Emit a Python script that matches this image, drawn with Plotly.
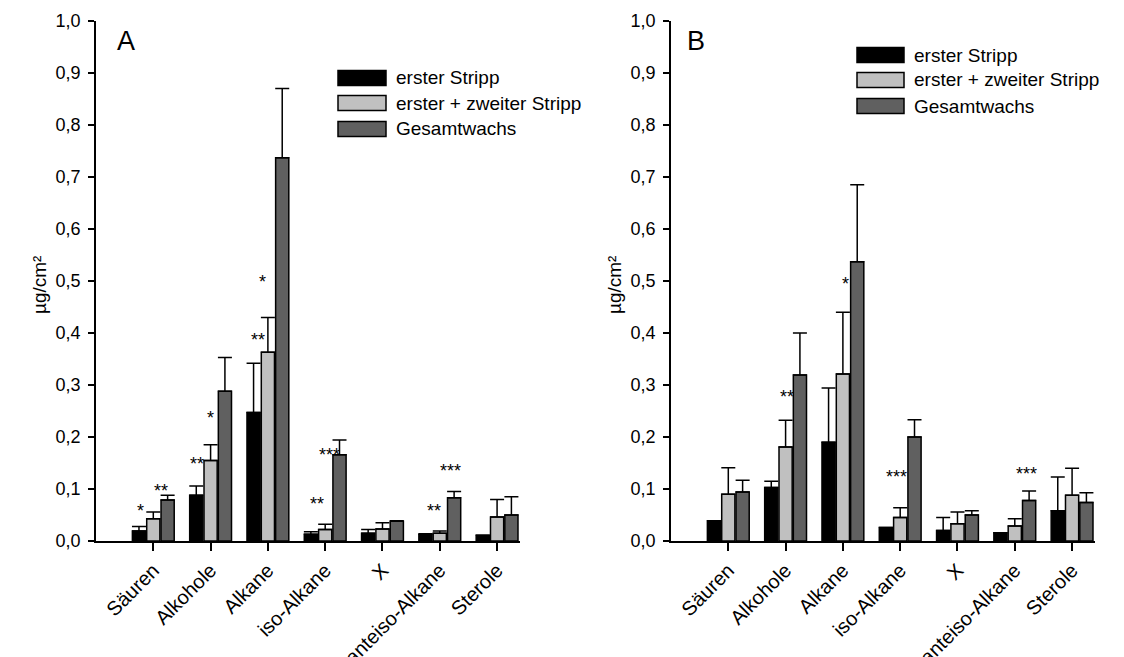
import plotly.graph_objects as go

categories = ["Säuren", "Alkohole", "Alkane", "iso-Alkane", "X", "anteiso-Alkane", "Sterole"]
series_names = ["erster Stripp", "erster + zweiter Stripp", "Gesamtwachs"]
y_tick_vals = [0.0, 0.1, 0.2, 0.3, 0.4, 0.5, 0.6, 0.7, 0.8, 0.9, 1.0]
y_tick_text = ["0,0", "0,1", "0,2", "0,3", "0,4", "0,5", "0,6", "0,7", "0,8", "0,9", "1,0"]

# Panel A: means and upper error (top of error bar)
a_first = [0.019, 0.088, 0.247, 0.013, 0.015, 0.013, 0.011]
a_first_top = [0.028, 0.106, 0.342, 0.018, 0.022, 0.014, 0.011]
a_second = [0.043, 0.155, 0.363, 0.022, 0.023, 0.015, 0.046]
a_second_top = [0.056, 0.185, 0.430, 0.032, 0.035, 0.019, 0.080]
a_total = [0.079, 0.288, 0.737, 0.166, 0.038, 0.083, 0.050]
a_total_top = [0.088, 0.353, 0.870, 0.194, 0.039, 0.095, 0.085]

# Panel B
b_first = [0.039, 0.103, 0.190, 0.026, 0.020, 0.016, 0.058]
b_first_top = [0.039, 0.115, 0.294, 0.026, 0.045, 0.016, 0.123]
b_second = [0.090, 0.181, 0.321, 0.045, 0.033, 0.029, 0.088]
b_second_top = [0.141, 0.232, 0.440, 0.064, 0.056, 0.043, 0.140]
b_total = [0.094, 0.319, 0.537, 0.200, 0.050, 0.078, 0.074]
b_total_top = [0.117, 0.400, 0.685, 0.233, 0.058, 0.096, 0.093]

# significance markers: (category position, y, text)
a_stars_x = [-0.23, 0.14, 0.77, 1.0, 1.83, 1.91, 2.86, 3.07, 4.9, 5.19]
a_stars_y = [0.066, 0.103, 0.156, 0.245, 0.394, 0.506, 0.079, 0.173, 0.065, 0.142]
a_stars_t = ["*", "**", "**", "*", "**", "*", "**", "***", "**", "***"]
b_stars_x = [1.03, 2.05, 2.93, 5.21]
b_stars_y = [0.284, 0.501, 0.130, 0.136]
b_stars_t = ["**", "*", "***", "***"]

colors = ["#000000", "#c0c0c0", "#606060"]
FONT = "Liberation Sans, Arial, sans-serif"
OFF = 8  # page body margin
W, H = 1124 - OFF, 657 - OFF

def px(x):
    return (x - OFF) / W

def py(y):
    return 1 - (y - OFF) / H

fig = go.Figure()
xpos = list(range(len(categories)))

def add_panel(vals, tops, xa, ya):
    for i, (v, t) in enumerate(zip(vals, tops)):
        fig.add_trace(go.Bar(
            x=xpos, y=v, name=series_names[i], showlegend=False,
            marker=dict(color=colors[i], line=dict(color="black", width=1.5)),
            error_y=dict(type="data", symmetric=False,
                         array=[tt - vv for tt, vv in zip(t, v)],
                         arrayminus=[0] * len(v),
                         color="black", thickness=1.5, width=7),
            xaxis=xa, yaxis=ya, offsetgroup=str(i),
        ))

add_panel([a_first, a_second, a_total], [a_first_top, a_second_top, a_total_top], "x", "y")
add_panel([b_first, b_second, b_total], [b_first_top, b_second_top, b_total_top], "x2", "y2")

ydom = [py(541), py(21)]
xa_common = dict(range=[-1, 6.4], tickvals=xpos, ticktext=categories, tickangle=-45,
                 showline=True, linecolor="black", linewidth=1.5, ticks="outside",
                 ticklen=8, tickwidth=1.5, tickcolor="black", showgrid=False, zeroline=False,
                 automargin=False,
                 tickfont=dict(family=FONT, size=20, color="black"))
ya_common = dict(range=[0, 1], tickvals=y_tick_vals, ticktext=y_tick_text,
                 showline=True, linecolor="black", linewidth=1.5, ticks="outside",
                 ticklen=6, tickwidth=1.5, tickcolor="black", showgrid=False, zeroline=False,
                 automargin=False, ticklabelstandoff=4,
                 tickfont=dict(family=FONT, size=18, color="black"), domain=ydom)

fig.update_layout(
    width=W, height=H, margin=dict(l=0, r=0, t=0, b=0, pad=0), autosize=False,
    plot_bgcolor="white", paper_bgcolor="white",
    barmode="group", bargap=0.25, bargroupgap=0.08,
    showlegend=False,
    xaxis=dict(domain=[px(96), px(520)], anchor="y", **xa_common),
    yaxis=dict(anchor="x", **ya_common),
    xaxis2=dict(domain=[px(671), px(1095)], anchor="y2", **xa_common),
    yaxis2=dict(anchor="x2", **ya_common),
)

ann = []
for xs, ys, ts, xr, yr in [(a_stars_x, a_stars_y, a_stars_t, "x", "y"),
                           (b_stars_x, b_stars_y, b_stars_t, "x2", "y2")]:
    for x, y, t in zip(xs, ys, ts):
        ann.append(dict(x=x, y=y, xref=xr, yref=yr, text=t, showarrow=False,
                        xanchor="center", yanchor="middle",
                        font=dict(family=FONT, size=18, color="black"), yshift=-4))

# panel letters and y titles
for letter, lx in [("A", 126), ("B", 696)]:
    ann.append(dict(x=px(lx), y=py(41), xref="paper", yref="paper", text=letter,
                    xanchor="center", yanchor="middle",
                    showarrow=False, font=dict(family=FONT, size=27, color="black")))
for tx in [39, 614]:
    ann.append(dict(x=px(tx), y=py(285), xref="paper", yref="paper", text="µg/cm²",
                    xanchor="center", yanchor="middle",
                    textangle=-90, showarrow=False, font=dict(family=FONT, size=19, color="black")))

# legends
shapes = []
for bx0, bx1, rows in [(338, 386, [78, 103, 129]), (857, 904, [55, 80, 106])]:
    for i, cy in enumerate(rows):
        shapes.append(dict(type="rect", xref="paper", yref="paper",
                           x0=px(bx0), x1=px(bx1), y0=py(cy + 7.5), y1=py(cy - 7.5),
                           fillcolor=colors[i], line=dict(color="black", width=1.5)))
        ann.append(dict(x=px(bx1 + 8), y=py(cy), xref="paper", yref="paper",
                        text=series_names[i], xanchor="left", yanchor="middle", showarrow=False,
                        font=dict(family=FONT, size=19, color="black")))

fig.update_layout(annotations=ann, shapes=shapes)
fig.write_html("out.html")
